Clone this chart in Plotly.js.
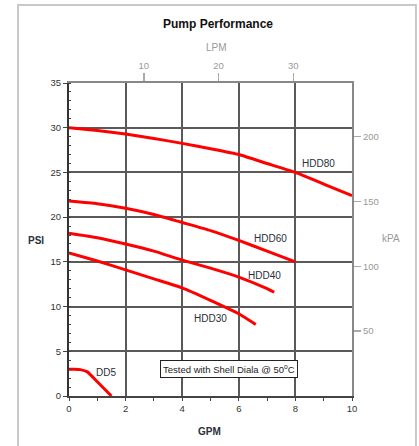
<!DOCTYPE html>
<html>
<head>
<meta charset="utf-8">
<script src="https://cdn.plot.ly/plotly-3.0.1.min.js"></script>
<style>
  html, body { margin: 0; padding: 0; background: #fff; }
  #chart { width: 419px; height: 446px; }
</style>
</head>
<body>
<div id="chart"></div>
<script>
// Data (GPM vs PSI)
const hdd80Gpm = [0, 1, 2, 3, 4, 5, 6, 7, 8, 9, 10];
const hdd80Psi = [30.0, 29.7, 29.3, 28.8, 28.25, 27.65, 27.0, 26.0, 25.0, 23.7, 22.4];
const hdd60Gpm = [0, 1, 2, 3, 4, 5, 6, 7, 8];
const hdd60Psi = [21.8, 21.5, 21.0, 20.3, 19.4, 18.5, 17.4, 16.2, 15.0];
const hdd40Gpm = [0, 1, 2, 3, 4, 5, 6, 7, 7.25];
const hdd40Psi = [18.2, 17.7, 17.0, 16.2, 15.2, 14.3, 13.3, 12.0, 11.6];
const hdd30Gpm = [0, 1, 2, 3, 4, 5, 6, 6.6];
const hdd30Psi = [16.0, 15.1, 14.1, 13.1, 12.1, 10.7, 9.2, 8.0];
const dd5Gpm = [0, 0.2, 0.4, 0.65, 1.0, 1.5];
const dd5Psi = [3.0, 3.0, 2.95, 2.7, 1.6, 0];

const seriesNames = ['HDD80', 'HDD60', 'HDD40', 'HDD30', 'DD5'];
const labelGpm = [8.83, 7.13, 6.91, 5.0, 1.3];
const labelPsi = [26.0, 17.6, 13.5, 8.7, 2.65];

const gpmRange = [0, 10];
const psiRange = [0, 35];
const LPM_PER_GPM = 3.785;
const KPA_PER_PSI = 6.895;
const lpmTicks = [10, 20, 30];
const kpaTicks = [50, 100, 150, 200];

const FONT = 'Liberation Sans, Arial, sans-serif';
const RED = '#ff0000';

function curve(x, y) {
  return {
    x: x, y: y, type: 'scatter', mode: 'lines',
    line: { color: RED, width: 3, shape: 'spline', smoothing: 0.4 },
    hoverinfo: 'skip', showlegend: false
  };
}

const traces = [
  curve(hdd80Gpm, hdd80Psi),
  curve(hdd60Gpm, hdd60Psi),
  curve(hdd40Gpm, hdd40Psi),
  curve(hdd30Gpm, hdd30Psi),
  curve(dd5Gpm, dd5Psi),
  {
    x: [gpmRange[0] * LPM_PER_GPM], y: [psiRange[0] * KPA_PER_PSI],
    xaxis: 'x2', yaxis: 'y2', type: 'scatter', mode: 'markers',
    marker: { opacity: 0 }, hoverinfo: 'skip', showlegend: false
  }
];

function ann(x, y, text, size, color, extra) {
  return Object.assign({ x: x, y: y, xref: 'paper', yref: 'paper', showarrow: false,
    xanchor: 'center', yanchor: 'middle', text: text,
    font: { family: FONT, size: size, color: color } }, extra || {});
}

const annotations = seriesNames.map((n, i) => ({
  x: labelGpm[i], y: labelPsi[i], xref: 'x', yref: 'y',
  xanchor: 'center', yanchor: 'middle',
  text: n, showarrow: false,
  font: { family: FONT, size: 10, color: '#2a2f3a' }
}));

annotations.push(
  { x: 5.64, y: 3.0, xref: 'x', yref: 'y', showarrow: false,
    xanchor: 'center', yanchor: 'middle',
    text: 'Tested with Shell Diala @ 50<sup>o</sup>C',
    font: { family: FONT, size: 9.5, color: '#222' },
    bgcolor: '#fff', bordercolor: '#222', borderwidth: 1, borderpad: 2 },
  ann(0.525, 1.190, '<b>Pump Performance</b>', 12, '#111'),
  ann(0.52, 1.115, 'LPM', 10, '#999'),
  ann(-0.117, 0.498, '<b>PSI</b>', 10, '#2a2f3a'),
  ann(1.138, 0.502, 'kPA', 10, '#999'),
  ann(0.498, -0.112, '<b>GPM</b>', 10, '#2a2f3a')
);

const layout = {
  width: 419, height: 446,
  margin: { l: 69, r: 67, t: 83, b: 50, pad: 0 },
  paper_bgcolor: '#fff', plot_bgcolor: '#fff',
  font: { family: FONT, size: 9, color: '#333' },
  showlegend: false,
  xaxis: {
    range: gpmRange, dtick: 2, tick0: 0,
    showgrid: true, gridcolor: '#5a5a5a', gridwidth: 2,
    zeroline: false,
    showline: true, linecolor: '#444', linewidth: 2,
    ticks: 'outside', ticklen: 3, tickcolor: '#444', tickwidth: 1,
    minor: { dtick: 1, ticks: 'outside', ticklen: 3, tickcolor: '#444', showgrid: false },
    tickfont: { family: FONT, size: 9.5, color: '#333' },
    fixedrange: true
  },
  yaxis: {
    range: psiRange, dtick: 5, tick0: 0,
    showgrid: true, gridcolor: '#5a5a5a', gridwidth: 2,
    zeroline: false,
    showline: true, linecolor: '#333', linewidth: 2,
    ticks: 'outside', ticklen: 4, tickcolor: '#444', tickwidth: 1,
    minor: { dtick: 1, ticks: 'inside', ticklen: 2, tickcolor: '#444', showgrid: false },
    tickfont: { family: FONT, size: 9.5, color: '#333' },
    fixedrange: true
  },
  xaxis2: {
    overlaying: 'x', side: 'top', anchor: 'y',
    range: [gpmRange[0] * LPM_PER_GPM, gpmRange[1] * LPM_PER_GPM],
    tickmode: 'array', tickvals: lpmTicks, ticktext: lpmTicks.map(String),
    showgrid: false, zeroline: false,
    showline: true, linecolor: '#888', linewidth: 2,
    ticks: 'outside', ticklen: 8, tickcolor: '#aaa', tickwidth: 1.5,
    tickfont: { family: FONT, size: 9.5, color: '#999' },
    fixedrange: true
  },
  yaxis2: {
    overlaying: 'y', side: 'right', anchor: 'x',
    range: [psiRange[0] * KPA_PER_PSI, psiRange[1] * KPA_PER_PSI],
    tickmode: 'array', tickvals: kpaTicks, ticktext: kpaTicks.map(String),
    showgrid: false, zeroline: false,
    showline: true, linecolor: '#888', linewidth: 2,
    ticks: 'outside', ticklen: 7, tickcolor: '#aaa', tickwidth: 1.5,
    tickfont: { family: FONT, size: 9.5, color: '#999' },
    fixedrange: true
  },
  shapes: [
    { type: 'rect', xref: 'paper', yref: 'paper',
      x0: -0.180, x1: 1.226, y0: -0.2, y1: 1.249,
      line: { color: '#c8c8c8', width: 2 }, fillcolor: 'rgba(0,0,0,0)', layer: 'below' }
  ],
  annotations: annotations
};

Plotly.newPlot('chart', traces, layout, { displayModeBar: false, staticPlot: true });
</script>
</body>
</html>
